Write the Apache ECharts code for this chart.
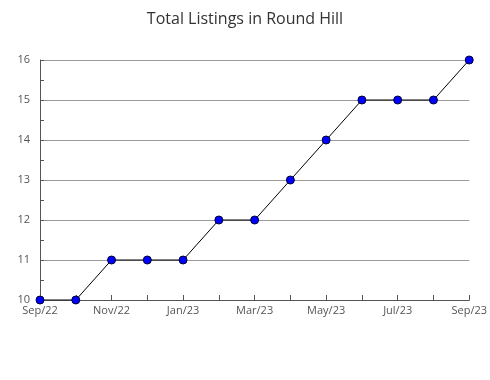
<!DOCTYPE html>
<html><head><meta charset="utf-8">
<script src="https://cdn.jsdelivr.net/npm/echarts@6/dist/echarts.min.js"></script>
<style>html,body{margin:0;padding:0;background:#fff}#c{width:490px;height:380px}</style>
</head><body><div id="c"></div>
<script>
const months = ['Sep/22','Oct/22','Nov/22','Dec/22','Jan/23','Feb/23','Mar/23','Apr/23','May/23','Jun/23','Jul/23','Aug/23','Sep/23'];
const listings = [10,10,11,11,11,12,12,13,14,15,15,15,16];
const yTicks = [10,11,12,13,14,15,16];
const chart = echarts.init(document.getElementById('c'));
const font = '"Open Sans", "Noto Sans", sans-serif';
chart.setOption({
  animation:false,
  title:{text:'Total Listings in Round Hill',left:'center',top:6,textStyle:{fontFamily:font,fontSize:16,fontWeight:'normal',color:'#333'}},
  grid:{left:40,right:20,top:60,bottom:80},
  xAxis:{type:'category',data:months,boundaryGap:false,
    axisLine:{lineStyle:{color:'#555',width:1}},
    axisTick:{show:true,inside:true,length:5,interval:0,lineStyle:{color:'#555'}},
    axisLabel:{interval:1,fontFamily:font,fontSize:11,color:'#555',margin:5},
    splitLine:{show:false}},
  yAxis:{type:'value',min:yTicks[0],max:yTicks[yTicks.length-1],interval:1,
    axisLine:{show:true,lineStyle:{color:'#555',width:1}},
    axisTick:{show:true,inside:true,length:4,lineStyle:{color:'#555'}},
    minorTick:{show:true,splitNumber:2,length:4,lineStyle:{color:'#555'}},
    axisLabel:{fontFamily:font,fontSize:11,color:'#555',margin:10},
    splitLine:{show:true,lineStyle:{color:'#999',width:1}}},
  series:[{type:'line',data:listings,symbol:'circle',symbolSize:8,
    lineStyle:{color:'#000',width:1},
    itemStyle:{color:'#0000ff',borderColor:'#000033',borderWidth:1}}]
});
</script></body></html>
